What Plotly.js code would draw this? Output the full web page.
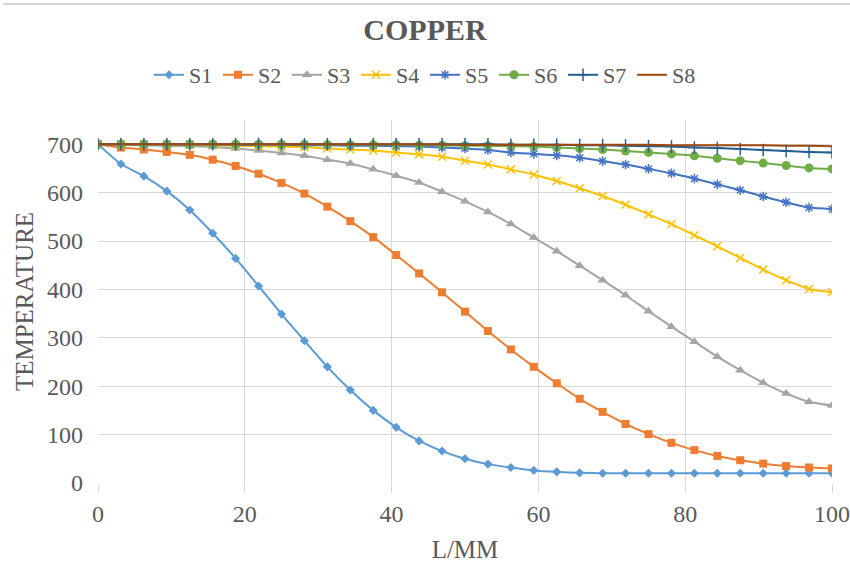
<!DOCTYPE html>
<html>
<head>
<meta charset="utf-8">
<script src="https://cdn.plot.ly/plotly-3.0.1.min.js"></script>
<style>html,body{margin:0;padding:0;background:#fff;}#chart{width:850px;height:572px;}</style>
</head>
<body>
<div id="chart"></div>
<script>
// x positions (L/MM): 33 points from 0 to 100
const xValues = [0,3.125,6.25,9.375,12.5,15.625,18.75,21.875,25,28.125,31.25,34.375,37.5,40.625,43.75,46.875,50,53.125,56.25,59.375,62.5,65.625,68.75,71.875,75,78.125,81.25,84.375,87.5,90.625,93.75,96.875,100];

const s1 = [700,659,634,603,564,516,464,407,349,294,240,192,150,115,87,66,50,39,32,26,23,21,20,20,20,20,20,20,20,20,20,20,20];
const s2 = [700,693,689,684,678,668,655,639,620,598,571,541,508,471,433,394,354,314,276,240,206,174,147,122,101,83,68,56,47,40,35,32,30];
const s3 = [700,699,698,697,696,694,691,687,682,676,668,660,648,635,621,602,582,560,535,507,479,449,419,388,355,323,292,261,233,207,185,168,160];
const s4 = [700,700,700,699,699,698,697,696,695,694,691,689,687,683,679,674,666,658,648,637,624,609,593,575,555,535,512,489,465,441,419,401,394];
const s5 = [700,700,700,700,700,700,699,699,699,698,698,697,697,696,695,693,691,688,683,680,677,672,665,658,649,640,629,617,605,592,580,569,566];
const s6 = [700,700,700,700,700,700,700,700,700,700,699,699,699,699,698,698,697,697,696,695,693,691,689,686,683,680,676,671,666,661,656,651,649];
const s7 = [700,700,700,700,700,700,700,700,700,700,700,700,700,700,700,700,700,700,699,699,699,698,698,697,696,695,693,692,690,688,686,684,683];
const s8 = [700,700,700,700,700,700,700,700,700,700,700,700,700,700,700,700,699,699,699,699,699,699,699,699,699,698,698,698,698,698,697,697,696];

const seriesNames = ['S1','S2','S3','S4','S5','S6','S7','S8'];
const seriesData = [s1,s2,s3,s4,s5,s6,s7,s8];
const xTicks = [0,20,40,60,80,100];
const yTicks = [0,100,200,300,400,500,600,700];

const colors = ['#5B9BD5','#ED7D31','#A5A5A5','#FFC000','#4472C4','#70AD47','#255E91','#9E480E'];
const markers = [
  {symbol:'diamond', size:7},
  {symbol:'square', size:8},
  {symbol:'triangle-up', size:9},
  {symbol:'x-thin-open', size:8},
  {symbol:'asterisk-open', size:8},
  {symbol:'circle', size:9},
  {symbol:'cross-thin-open', size:9},
  null
];

const FONT = 'Liberation Serif';
const GRAY = '#595959';

const traces = seriesData.map((ys, i) => {
  const m = markers[i];
  const t = {
    x: xValues, y: ys, name: seriesNames[i], type: 'scatter',
    mode: m ? 'lines+markers' : 'lines',
    line: {color: colors[i], width: 2, shape: 'spline', smoothing: 0.6}
  };
  if (m) {
    t.marker = {symbol: m.symbol, size: m.size, color: colors[i],
      line: {color: colors[i], width: (m.symbol.indexOf('open') >= 0 ? 1.5 : 0)}};
  }
  return t;
});

const layout = {
  width: 850, height: 572,
  margin: {l: 98, r: 18, t: 120, b: 89},
  paper_bgcolor: '#ffffff', plot_bgcolor: '#ffffff',
  font: {family: FONT, color: GRAY, size: 22},
  title: {text: '<b>COPPER</b>', font: {family: FONT, size: 30, color: GRAY}, x: 0.5, xanchor: 'center', y: 0.948, yanchor: 'middle'},
  showlegend: true,
  legend: {orientation: 'h', x: 0.4455, xanchor: 'center', y: 1.124, yanchor: 'middle',
    font: {family: FONT, size: 22, color: GRAY}, traceorder: 'normal', itemwidth: 30,
    entrywidth: 24, entrywidthmode: 'pixels'},
  xaxis: {
    range: [0, 100], tickvals: xTicks, ticktext: xTicks.map(String),
    showgrid: true, gridcolor: '#d9d9d9', gridwidth: 1,
    zeroline: false, showline: false,
    ticks: 'outside', ticklen: 9, tickcolor: '#d9d9d9', tickwidth: 1,
    tickfont: {family: FONT, size: 24, color: GRAY},
    title: {text: 'L/MM', font: {family: FONT, size: 25, color: GRAY}, standoff: 14}
  },
  yaxis: {
    range: [0, 750], tickvals: yTicks, ticktext: yTicks.map(String),
    showgrid: true, gridcolor: '#d9d9d9', gridwidth: 1,
    zeroline: false, showline: false, ticks: '',
    ticklabelstandoff: 14,
    tickfont: {family: FONT, size: 24, color: GRAY},
    title: {text: 'TEMPERATURE', font: {family: FONT, size: 25, color: GRAY}, standoff: 6}
  },
  shapes: [{type: 'line', xref: 'paper', yref: 'paper', x0: -0.129, x1: 1.0245, y0: 1.3196, y1: 1.3196,
    line: {color: '#c8c8c8', width: 1.5}}]
};

Plotly.newPlot('chart', traces, layout, {displayModeBar: false, staticPlot: true});
</script>
</body>
</html>
